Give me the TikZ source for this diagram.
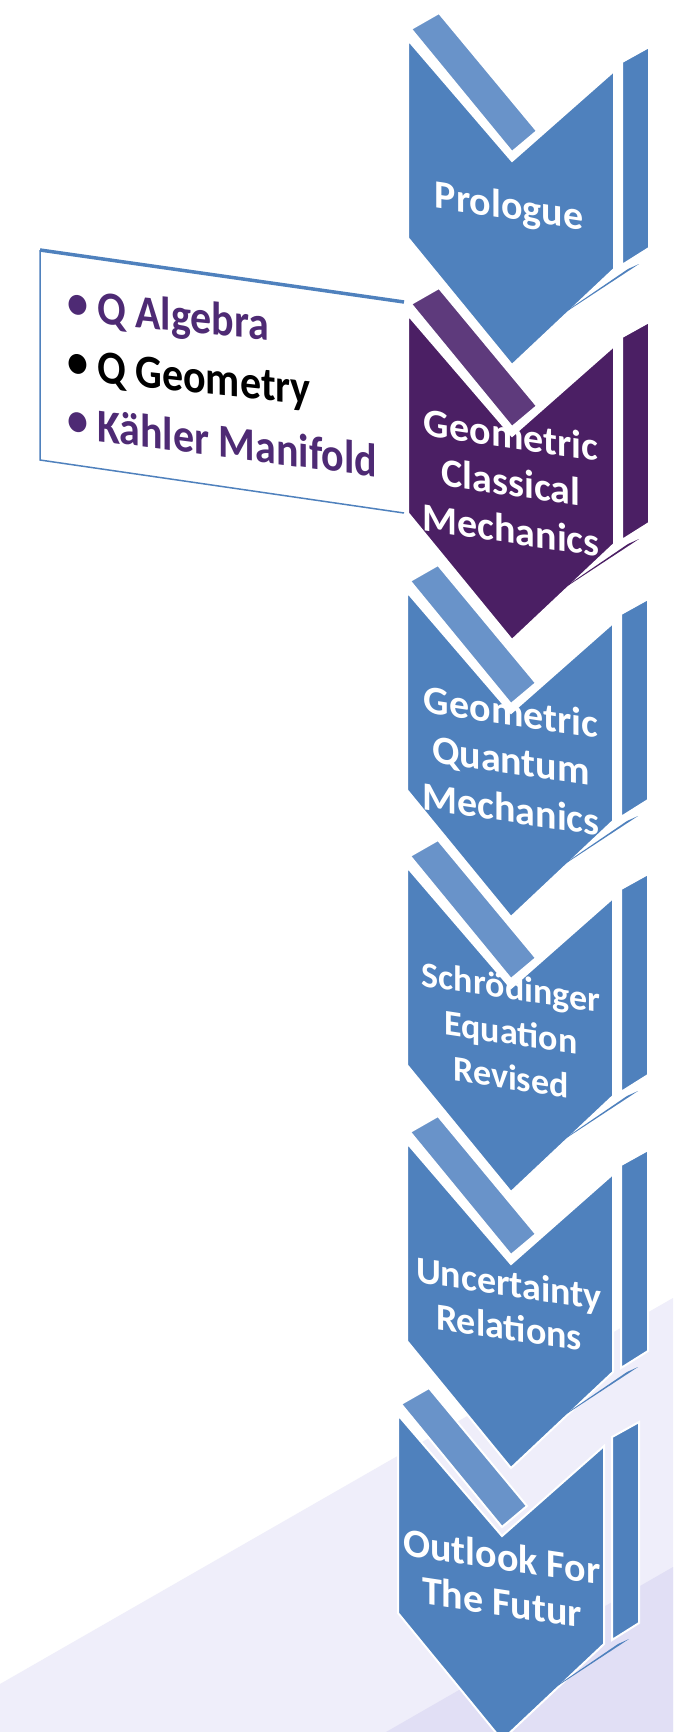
\documentclass[tikz,border=0pt]{standalone}
\usepackage{fontspec}
\setmainfont{Carlito}
\definecolor{cblue}{HTML}{4F81BD}
\definecolor{ctab}{HTML}{6993C9}
\definecolor{cpurple}{HTML}{4B1F64}
\definecolor{cptab}{HTML}{5E3A7C}
\definecolor{ctext}{HTML}{4E2A74}
\definecolor{lavA}{HTML}{EFEEFA}
\definecolor{lavB}{HTML}{E1DFF5}
\newcommand\fs[2]{\fontsize{#1}{#2}\selectfont\bfseries}
\newcommand\bul{\makebox[31pt][l]{\hspace{1pt}\raisebox{2pt}{\textbullet}}}
\newcommand\chevron[4]{% x0, y0, body colour, tab colour
  \begin{scope}[shift={(#1,#2)}]
    \filldraw[part, fill=#4] (3,-11) -- (31,-27) -- (129,91) -- (104,112) -- cycle;
    \filldraw[part, fill=#3] (0,0) -- (104,121) -- (206,31) -- (206,229) -- (104,325) -- (0,198) -- cycle;
    \filldraw[part, fill=#3] (214,22) -- (241,7) -- (241,208) -- (214,225) -- cycle;
    \fill[#3] (220,229) -- (231,224) -- (126,293) -- cycle;
  \end{scope}}
\tikzset{
  part/.style={draw=white, line width=2pt, line join=miter},
  lbl/.style={text=white, align=center, yslant=-0.15, inner sep=0pt},
  item/.style={anchor=base west, yscale=1.12, inner sep=0pt, font=\fs{42}{50}},
}
\begin{document}
\begin{tikzpicture}[x=1pt, y=-1pt]
  \useasboundingbox (0,0) rectangle (673,1732);
  \fill[white] (0,0) rectangle (673,1732);
  % background
  \fill[lavA] (0,1684) -- (673,1298) -- (673,1732) -- (0,1732) -- cycle;
  \fill[lavB] (386,1732) -- (673,1567) -- (673,1732) -- cycle;
  % callout box
  \fill[white] (40,250) -- (404,302) -- (404,513) -- (40,460) -- cycle;
  \draw[cblue, line width=3.5pt] (40,250) -- (404,302);
  \draw[cblue, line width=1.5pt] (40,250) -- (40,460) -- (404,513);
  \node[item, yslant=-0.09, text=ctext] (b1) at (66,320) {\bul Q Algebra};
  \node[item, yslant=-0.095, text=black] (b2) at (66,379) {\bul Q Geometry};
  \node[item, yslant=-0.115, text=ctext] (b3) at (66,437) {\bul Kähler Manifold};
  % chevrons
  \chevron{408}{40}{cblue}{ctab}
  \chevron{408}{315}{cpurple}{cptab}
  \chevron{407}{592}{cblue}{ctab}
  \chevron{407}{867}{cblue}{ctab}
  \chevron{407}{1143}{cblue}{ctab}
  \chevron{398}{1415}{cblue}{ctab}
  % labels
  \node[lbl, font=\fs{40}{47}, anchor=base] (c1) at (509,219) {Prologue};
  \node[lbl, font=\fs{40}{47.5}] (c2) at (511,482) {Geometric\\Classical\\Mechanics};
  \node[lbl, font=\fs{40}{48.5}] (c3) at (511,760) {Geometric\\Quantum\\Mechanics};
  \node[lbl, font=\fs{36}{45}] (c4) at (511,1032) {Schrödinger\\Equation\\Revised};
  \node[lbl, font=\fs{38}{44}] (c5) at (509,1305) {Uncertainty\\Relations};
  \node[lbl, font=\fs{40}{46}] (c6) at (502,1579) {Outlook For\\The Futur};
\end{tikzpicture}
\end{document}
